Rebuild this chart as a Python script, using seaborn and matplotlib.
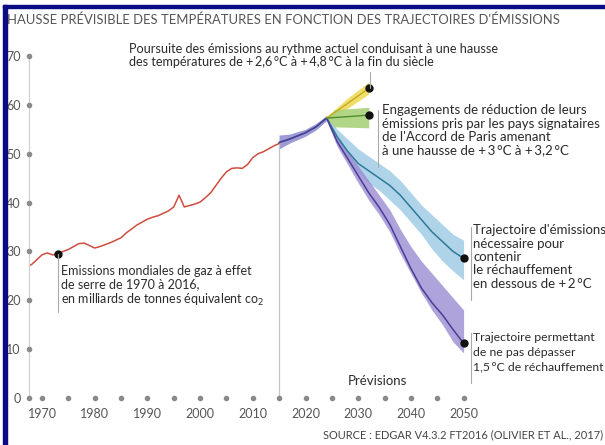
import numpy as np
import pandas as pd
import matplotlib.pyplot as plt
import seaborn as sns
from matplotlib.patches import Rectangle

# historique (années telles que placées sur le graphique)
hist_years = list(range(1967, 2016))
hist_values = [27.0, 27.3, 28.3, 29.3, 29.7, 29.3, 29.5, 30.0, 30.4, 31.0,
               31.6, 31.7, 31.2, 30.7, 31.0, 31.4, 31.8, 32.3, 32.8, 33.8,
               34.6, 35.4, 36.0, 36.6, 37.0, 37.3, 37.8, 38.3, 39.1, 41.5,
               39.1, 39.4, 39.7, 40.1, 41.0, 42.0, 43.5, 45.0, 46.3, 47.0,
               47.1, 47.0, 47.8, 49.2, 50.0, 50.4, 51.0, 51.6, 52.1]
marker_year = 1973

# trajectoires
proj_years = [2015, 2017, 2020, 2022, 2024, 2026, 2028, 2030, 2032, 2034,
              2036, 2038, 2040, 2042, 2044, 2046, 2048, 2050]
blue_values = [52.3, 53.0, 54.3, 55.5, 57.3, 53.5, 50.5, 48.0, 46.5, 45.0,
               43.5, 41.5, 39.0, 36.5, 34.0, 32.0, 30.0, 28.6]
blue_low = [51.0, 52.2, 53.6, 54.9, 56.8, 52.5, 49.0, 46.0, 44.0, 42.5,
            40.5, 38.5, 36.0, 33.5, 30.5, 28.0, 26.0, 24.2]
blue_high = [53.8, 54.0, 55.0, 56.2, 57.8, 55.0, 53.0, 51.0, 49.5, 48.0,
             46.5, 44.5, 42.0, 39.5, 37.5, 35.5, 33.5, 32.3]
purple_values = [52.3, 53.0, 54.3, 55.5, 57.3, 52.5, 49.0, 45.5, 42.0, 39.0,
                 35.5, 31.0, 26.5, 22.5, 19.5, 17.0, 14.0, 11.2]
purple_low = [51.0, 52.2, 53.6, 54.9, 56.8, 51.5, 47.8, 44.0, 40.5, 37.5,
              34.0, 29.5, 25.5, 21.5, 18.0, 15.0, 11.5, 9.2]
purple_high = [53.8, 54.0, 55.0, 56.2, 57.8, 53.5, 50.5, 47.5, 44.5, 41.5,
               38.5, 34.5, 31.0, 28.0, 25.5, 23.0, 20.5, 18.0]

yellow_years = [2024, 2028, 2032]
yellow_values = [57.3, 60.3, 63.4]
yellow_low = [57.0, 59.3, 62.2]
yellow_high = [57.6, 61.4, 64.7]

green_years = [2024, 2025.5, 2032]
green_values = [57.3, 57.4, 57.9]
green_low = [57.3, 55.5, 55.3]
green_high = [57.3, 59.0, 59.5]

ytick_values = list(range(0, 80, 10))
xtick_labels = list(range(1970, 2060, 10))
xdot_years = list(range(1970, 2055, 5))

sns.set_style('white')
plt.rcParams['font.family'] = ['Lato', 'DejaVu Sans']

fig = plt.figure(figsize=(6.05, 4.45), dpi=100)
W, H = 605, 445
ax = fig.add_axes([29 / W, 47 / H, 576 / W, 342 / H])
ax.set_xlim(1967.53, 2076.83)
ax.set_ylim(0, 70)

# bandes
ax.fill_between(proj_years, blue_low, blue_high, color='#a6d0e8', alpha=0.9, lw=0)
ax.fill_between(proj_years, purple_low, purple_high, color='#9a8cd2', alpha=0.8, lw=0)
ax.fill_between(yellow_years, yellow_low, yellow_high, color='#eedc5a', alpha=0.9, lw=0)
ax.fill_between(green_years, green_low, green_high, color='#a9d27a', alpha=0.9, lw=0)

# ligne verticale "prévisions"
ax.plot([2015, 2015], [0, 52.3], color='#c4c4c4', lw=0.9)

# courbes
sns.lineplot(x=hist_years, y=hist_values, ax=ax, color='#cf4d3e', lw=1.1)
sns.lineplot(x=proj_years, y=blue_values, ax=ax, color='#2d7a98', lw=1.1)
sns.lineplot(x=proj_years, y=purple_values, ax=ax, color='#4e3c96', lw=1.1)
sns.lineplot(x=yellow_years, y=yellow_values, ax=ax, color='#c9a820', lw=1.0)
sns.lineplot(x=green_years, y=green_values, ax=ax, color='#4f8f2a', lw=1.0)

# points d'extrémité
ends_x = [marker_year, yellow_years[-1], green_years[-1], proj_years[-1], proj_years[-1]]
ends_y = [hist_values[hist_years.index(marker_year)], yellow_values[-1],
          green_values[-1], blue_values[-1], purple_values[-1]]
ax.plot(ends_x, ends_y, 'o', color='#111111', ms=5, clip_on=False)

# filets de renvoi vers les textes
lc = '#aaaaaa'
ax.plot([2032.2, 2032.2], [yellow_values[-1], 66.7], color=lc, lw=0.8, clip_on=False)
ax.plot([2033.8, 2033.8], [58.9, 47.2], color=lc, lw=0.8, clip_on=False)
ax.plot([2051.4, 2051.4], [35.0, 20.0], color=lc, lw=0.8, clip_on=False)
ax.plot([2051.4, 2051.4], [13.3, 3.1], color=lc, lw=0.8, clip_on=False)
ax.plot([marker_year, marker_year], [29.5, 17.6], color=lc, lw=0.8, clip_on=False)

# axes
for s in ['top', 'right', 'bottom']:
    ax.spines[s].set_visible(False)
ax.spines['left'].set_color('#d0d0d0')
ax.spines['left'].set_linewidth(0.9)
ax.set_yticks(ytick_values)
ax.set_yticklabels([str(v) for v in ytick_values])
ax.set_xticks(xtick_labels)
ax.set_xticklabels([str(v) for v in xtick_labels])
ax.tick_params(axis='both', length=0, labelsize=9, colors='#555555')
ax.tick_params(axis='y', pad=6)
ax.tick_params(axis='x', pad=7)
ax.set_xlabel('')
ax.set_ylabel('')
ax.scatter([1967.53] * len(ytick_values), ytick_values, s=9, color='#8a8a8a',
           clip_on=False, zorder=3)
ax.scatter(xdot_years, [0] * len(xdot_years), s=9, color='#8a8a8a',
           clip_on=False, zorder=3)

# textes
tc = '#2b2b2b'
fs = 9.5
ts = '\u2009'
fig.text(7 / W, 1 - 20 / H,
         "HAUSSE PRÉVISIBLE DES TEMPÉRATURES EN FONCTION DES TRAJECTOIRES D'ÉMISSIONS",
         fontsize=9.4, color='#555555', va='center', ha='left')
fig.text(129 / W, 1 - 43 / H,
         "Poursuite des émissions au rythme actuel conduisant à une hausse\n"
         f"des températures de +{ts}2,6{ts}°C à +{ts}4,8{ts}°C à la fin du siècle",
         fontsize=9.1, color=tc, va='top', ha='left', linespacing=1.1)
fig.text(382 / W, 1 - 104 / H,
         "Engagements de réduction de leurs\némissions pris par les pays signataires\n"
         f"de l'Accord de Paris amenant\nà une hausse de +{ts}3{ts}°C à +{ts}3,2{ts}°C",
         fontsize=fs, color=tc, va='top', ha='left', linespacing=1.15)
fig.text(473 / W, 1 - 224 / H,
         "Trajectoire d'émissions\nnécessaire pour\ncontenir\nle réchauffement\n"
         f"en dessous de +{ts}2{ts}°C",
         fontsize=fs, color=tc, va='top', ha='left', linespacing=1.15)
fig.text(473 / W, 1 - 332 / H,
         f"Trajectoire permettant\nde ne pas dépasser\n1,5{ts}°C de réchauffement",
         fontsize=8.8, color=tc, va='top', ha='left', linespacing=1.4)
fig.text(61 / W, 1 - 265 / H,
         "Emissions mondiales de gaz à effet\nde serre de 1970 à 2016,\n"
         "en milliards de tonnes équivalent co$_2$",
         fontsize=9, color=tc, va='top', ha='left', linespacing=1.15)
fig.text(377 / W, 1 - 381 / H, "Prévisions", fontsize=fs, color=tc,
         va='center', ha='center')
fig.text(603 / W, 1 - 435 / H, "SOURCE : EDGAR V4.3.2 FT2016 (OLIVIER ET AL., 2017)",
         fontsize=7.9, color='#444444', va='center', ha='right')

# cadre bleu
fig.patches.append(Rectangle((3 / W, 0), 4 / W, 1 - 5 / H, transform=fig.transFigure,
                             color='#0b0b85', zorder=10))
fig.patches.append(Rectangle((3 / W, 1 - 8 / H), 1 - 3 / W, 3 / H, transform=fig.transFigure,
                             color='#0b0b85', zorder=10))

fig.savefig('out.png', dpi=100)
